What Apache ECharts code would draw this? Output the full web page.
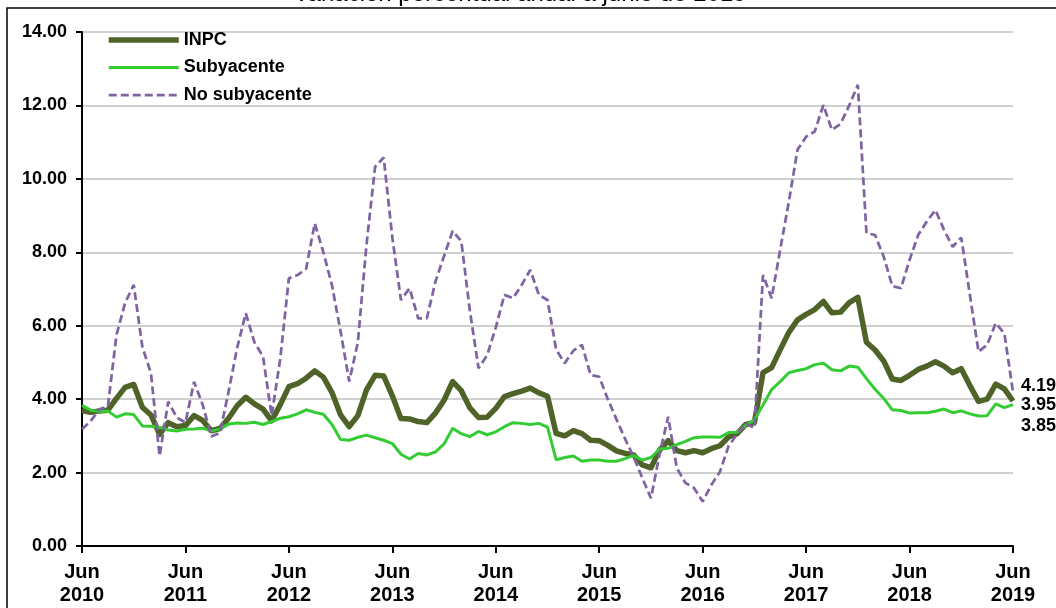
<!DOCTYPE html>
<html>
<head>
<meta charset="utf-8">
<script src="https://cdn.jsdelivr.net/npm/echarts@6/dist/echarts.min.js"></script>
<style>
  html, body { margin: 0; padding: 0; background: #fff; }
  #chart { width: 1056px; height: 608px; }
</style>
</head>
<body>
<div id="chart"></div>
<script>
// Months: June 2010 .. June 2019 (monthly)
var monthNames = ['Ene','Feb','Mar','Abr','May','Jun','Jul','Ago','Sep','Oct','Nov','Dic'];
var startYear = 2010, startMonth = 5, nMonths = 109;
var categories = [];
for (var i = 0; i < nMonths; i++) {
  var m = startMonth + i;
  categories.push(monthNames[m % 12] + ' ' + (startYear + Math.floor(m / 12)));
}

var yTicks = [0, 2, 4, 6, 8, 10, 12, 14];

var inpc = [
  3.69, 3.64, 3.68, 3.70, 4.02, 4.32, 4.40,
  3.78, 3.57, 3.04, 3.36, 3.25, 3.28, 3.55, 3.42, 3.14, 3.20, 3.48, 3.82,
  4.05, 3.87, 3.73, 3.41, 3.85, 4.34, 4.42, 4.57, 4.77, 4.60, 4.18, 3.57,
  3.25, 3.55, 4.25, 4.65, 4.63, 4.09, 3.47, 3.46, 3.39, 3.36, 3.62, 3.97,
  4.48, 4.23, 3.76, 3.50, 3.51, 3.75, 4.07, 4.15, 4.22, 4.30, 4.17, 4.08,
  3.07, 3.00, 3.14, 3.06, 2.88, 2.87, 2.74, 2.59, 2.52, 2.48, 2.21, 2.13,
  2.61, 2.87, 2.60, 2.54, 2.60, 2.54, 2.65, 2.73, 2.97, 3.06, 3.31, 3.36,
  4.72, 4.86, 5.35, 5.82, 6.16, 6.31, 6.44, 6.66, 6.35, 6.37, 6.63, 6.77,
  5.55, 5.34, 5.04, 4.55, 4.51, 4.65, 4.81, 4.90, 5.02, 4.90, 4.72, 4.83,
  4.37, 3.94, 4.00, 4.41, 4.28, 3.95
];

var subyacente = [
  3.83, 3.70, 3.66, 3.68, 3.51, 3.60, 3.58,
  3.27, 3.26, 3.23, 3.16, 3.13, 3.18, 3.19, 3.21, 3.13, 3.19, 3.32, 3.35,
  3.34, 3.37, 3.31, 3.39, 3.48, 3.52, 3.60, 3.71, 3.64, 3.59, 3.31, 2.90,
  2.88, 2.96, 3.02, 2.95, 2.88, 2.79, 2.50, 2.37, 2.52, 2.48, 2.56, 2.78,
  3.21, 3.06, 2.98, 3.12, 3.03, 3.11, 3.25, 3.36, 3.34, 3.31, 3.34, 3.24,
  2.35, 2.41, 2.45, 2.31, 2.34, 2.34, 2.31, 2.31, 2.38, 2.47, 2.34, 2.41,
  2.64, 2.66, 2.76, 2.85, 2.95, 2.97, 2.97, 2.96, 3.09, 3.10, 3.29, 3.44,
  3.84, 4.26, 4.48, 4.72, 4.78, 4.83, 4.94, 4.98, 4.80, 4.77, 4.90, 4.87,
  4.56, 4.27, 4.02, 3.71, 3.69, 3.62, 3.63, 3.63, 3.67, 3.73, 3.63, 3.68,
  3.60, 3.54, 3.55, 3.87, 3.77, 3.85
];

var noSubyacente = [
  3.18, 3.40, 3.72, 3.80, 5.75, 6.62, 7.11,
  5.43, 4.70, 2.45, 3.93, 3.50, 3.36, 4.47, 3.85, 2.98, 3.08, 4.20, 5.40,
  6.34, 5.55, 5.16, 3.55, 5.10, 7.29, 7.38, 7.55, 8.79, 8.00, 7.10, 5.84,
  4.48, 5.55, 8.20, 10.33, 10.58, 8.40, 6.70, 7.02, 6.20, 6.20, 7.20, 7.90,
  8.58, 8.30, 6.40, 4.84, 5.20, 5.95, 6.84, 6.75, 7.11, 7.52, 6.84, 6.70,
  5.35, 4.98, 5.32, 5.48, 4.66, 4.61, 4.00, 3.45, 2.92, 2.42, 1.85, 1.30,
  2.50, 3.52, 2.12, 1.72, 1.58, 1.21, 1.66, 2.02, 2.72, 3.05, 3.34, 3.21,
  7.38, 6.75, 8.08, 9.38, 10.79, 11.15, 11.29, 12.01, 11.33, 11.50, 12.00, 12.56,
  8.52, 8.47, 7.88, 7.08, 7.02, 7.79, 8.47, 8.84, 9.15, 8.61, 8.15, 8.40,
  6.84, 5.29, 5.48, 6.07, 5.79, 4.19
];

var seriesNames = ['INPC', 'Subyacente', 'No subyacente'];
var titleText = 'Variación porcentual anual a junio de 2019';

var FONT = 'Liberation Sans, Arial, sans-serif';
var COLORS = ['#4F6228', '#33CC33', '#8064A2'];
var WIDTHS = [5.5, 3, 2.75];
var DASH = [8, 4];

var chart = echarts.init(document.getElementById('chart'), null, { renderer: 'canvas' });

function endLabel(dy) {
  return {
    show: true,
    distance: 8,
    offset: [0, dy],
    color: '#000',
    fontFamily: FONT,
    fontWeight: 'bold',
    fontSize: 18,
    formatter: function (p) { return Number(p.value).toFixed(2); }
  };
}

chart.setOption({
  animation: false,
  backgroundColor: '#fff',
  textStyle: { fontFamily: FONT },
  graphic: [
    {
      type: 'rect',
      shape: { x: 7, y: 8, width: 1100, height: 640 },
      style: { fill: 'none', stroke: '#000', lineWidth: 1.5 },
      silent: true, z: -10
    },
    {
      type: 'text',
      x: 520, y: 6,
      style: {
        text: titleText,
        fontFamily: FONT, fontSize: 24, fill: '#000',
        align: 'center', verticalAlign: 'bottom'
      },
      silent: true, z: 10
    }
  ],
  legend: {
    orient: 'vertical',
    left: 106, top: 30, padding: 0,
    itemWidth: 70, itemHeight: 14, itemGap: 7.5,
    itemStyle: { color: 'rgba(0,0,0,0)', borderWidth: 0, opacity: 0 },
    data: [
      { name: seriesNames[0], lineStyle: { width: WIDTHS[0], color: COLORS[0], type: 'solid' } },
      { name: seriesNames[1], lineStyle: { width: WIDTHS[1], color: COLORS[1], type: 'solid' } },
      { name: seriesNames[2], lineStyle: { width: WIDTHS[2], color: COLORS[2], type: DASH } }
    ],
    textStyle: { fontFamily: FONT, fontSize: 18, fontWeight: 'bold', color: '#000', lineHeight: 20 }
  },
  grid: { left: 82, right: 43, top: 32, bottom: 62, containLabel: false },
  xAxis: {
    type: 'category',
    data: categories,
    boundaryGap: false,
    axisLine: { show: true, lineStyle: { color: '#000', width: 2 } },
    axisTick: { show: true, interval: 11, length: 7, lineStyle: { color: '#000', width: 2 } },
    axisLabel: {
      interval: 11, showMaxLabel: true,
      margin: 15,
      color: '#000', fontFamily: FONT, fontWeight: 'bold', fontSize: 20, lineHeight: 23,
      formatter: function (v) { return v.replace(' ', '\n'); }
    },
    splitLine: { show: false }
  },
  yAxis: {
    type: 'value',
    min: yTicks[0], max: yTicks[yTicks.length - 1], interval: 2,
    axisLine: { show: true, lineStyle: { color: '#000', width: 2 } },
    axisTick: { show: true, length: 6, lineStyle: { color: '#000', width: 2 } },
    axisLabel: {
      margin: 15, color: '#000', fontFamily: FONT, fontWeight: 'bold', fontSize: 18,
      formatter: function (v) { return v.toFixed(2); }
    },
    splitLine: { show: true, lineStyle: { color: '#c0c0c0', width: 1.5 } }
  },
  series: [
    {
      name: seriesNames[0], type: 'line', data: inpc,
      symbol: 'none', z: 3,
      color: COLORS[0],
      lineStyle: { color: COLORS[0], width: WIDTHS[0], join: 'round' },
      endLabel: endLabel(4)
    },
    {
      name: seriesNames[1], type: 'line', data: subyacente,
      symbol: 'none', z: 4,
      color: COLORS[1],
      lineStyle: { color: COLORS[1], width: WIDTHS[1] },
      endLabel: endLabel(21)
    },
    {
      name: seriesNames[2], type: 'line', data: noSubyacente,
      symbol: 'none', z: 5,
      color: COLORS[2],
      lineStyle: { color: COLORS[2], width: WIDTHS[2], type: DASH },
      endLabel: endLabel(-6)
    }
  ]
});
</script>
</body>
</html>
